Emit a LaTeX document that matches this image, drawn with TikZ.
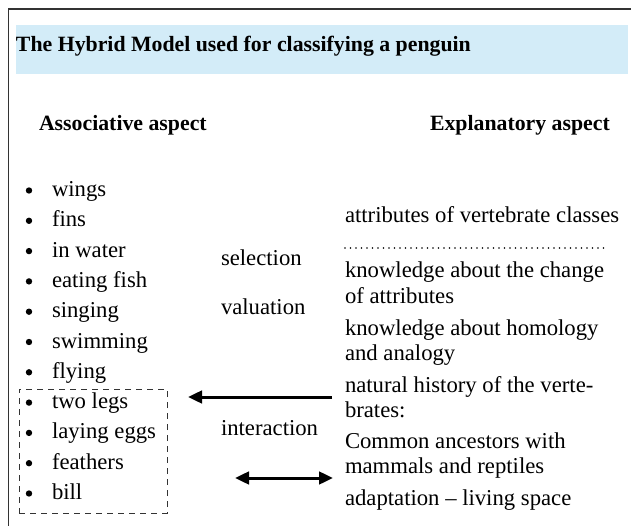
\documentclass[tikz,border=0pt]{standalone}
\usepackage{fontspec}
\setmainfont{Liberation Serif}
\usetikzlibrary{arrows.meta}
\definecolor{band}{HTML}{D3ECF8}
\definecolor{frame}{HTML}{333333}
\tikzset{
  every node/.style={inner sep=0pt, outer sep=0pt, font=\fontsize{22.7}{25}\selectfont},
  txt/.style={anchor=base west},
  hd/.style={anchor=base west, font=\fontsize{21.8}{25}\selectfont\bfseries},
  arr/.style={line width=3pt, -{Triangle[length=14pt,width=12.5pt]}},
  darr/.style={line width=3pt, {Triangle[length=14pt,width=12.5pt]}-{Triangle[length=14pt,width=12.5pt]}},
  dbox/.style={draw=black!80, line width=1pt, dash pattern=on 6pt off 5pt, anchor=north west},
  bul/.style={circle, fill=black, minimum size=6.4pt}
}
\begin{document}
\begin{tikzpicture}[x=1pt,y=-1pt]
\useasboundingbox (0,0) rectangle (631,526);
% frame and title band
\draw[frame, line width=1.6pt] (8.5,526) -- (8.5,8.8) -- (631,8.8);
\fill[band] (16,25) rectangle (628,74.5);
\node[hd] (title) at (16,52) {The Hybrid Model used for classifying a penguin};
% headings
\node[hd] (hassoc) at (39,131) {Associative aspect};
\node[hd] (hexpl) at (430,131) {Explanatory aspect};
% left list
\foreach \t [count=\i from 0] in {wings,fins,in water,eating fish,singing,swimming,flying,two legs,laying eggs,feathers,bill}{
  \node[txt] (l\i) at (52,{196.5+30.3*\i}) {\t};
  \node[bul] (b\i) at (29,{190.5+30.3*\i}) {};
}
\node[dbox, minimum width=148pt, minimum height=124pt] (box) at (19,389) {};
% middle labels
\node[txt] (sel) at (221,266) {selection};
\node[txt] (val) at (221,314) {valuation};
\node[txt] (inter) at (221,435) {interaction};
% right column
\node[txt] (r1) at (345,223) {attributes of vertebrate classes};
\coordinate (d1) at (345,248);
\coordinate (d2) at (608,248);
\draw[line width=1.8pt, line cap=round, dash pattern=on 0pt off 5.5pt] (d1) -- (d2);
\node[txt] (r2) at (345,278) {knowledge about the change};
\node[txt] (r3) at (345,303) {of attributes};
\node[txt] (r4) at (345,335) {knowledge about homology};
\node[txt] (r5) at (345,360) {and analogy};
\node[txt] (r6) at (345,392) {natural history of the verte-};
\node[txt] (r7) at (345,417) {brates:};
\node[txt] (r8) at (345,448) {Common ancestors with};
\node[txt] (r9) at (345,473) {mammals and reptiles};
\node[txt] (r10) at (345,505) {adaptation – living space};
% arrows
\coordinate (a1s) at (332,397);
\coordinate (a1e) at (188,397);
\draw[arr] (a1s) -- (a1e);
\coordinate (a2s) at (235,478);
\coordinate (a2e) at (333,478);
\draw[darr] (a2s) -- (a2e);
\end{tikzpicture}
\end{document}
